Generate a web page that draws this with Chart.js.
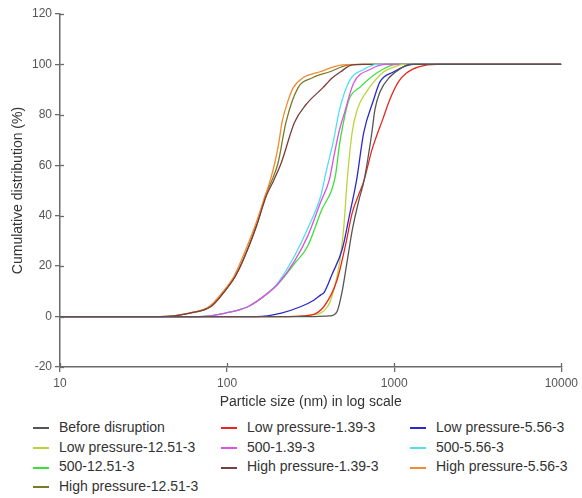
<!DOCTYPE html>
<html lang="en">
<head>
<meta charset="UTF-8">
<title>Cumulative distribution</title>
<script src="https://cdn.jsdelivr.net/npm/chart.js"></script>
<style>
    body { margin: 0; background: #fff; font-family: "Liberation Sans", Arial, sans-serif; }
    #wrap { position: relative; width: 582px; height: 498px; }
    #chart { position: absolute; left: 0; top: 0; }
    #legend {
        position: absolute; left: 33px; top: 418px;
        display: grid; grid-template-columns: 188px 189px 150px;
        font-size: 14px; color: #333;
    }
    .item { height: 19.7px; line-height: 19.7px; white-space: nowrap; }
    .item span { display: inline-block; width: 16px; height: 2px; vertical-align: middle; margin-right: 10px; }
</style>
</head>
<body>
<div id="wrap">
    <canvas id="chart" width="582" height="412"></canvas>
    <div id="legend"></div>
</div>
<script>
// particle size (nm) and cumulative % for each sample
const beforeSize = [10, 300, 415, 455, 490, 523, 560, 614, 660, 735, 766, 820, 940, 1100, 1240, 10000];
const beforePct  = [0, 0, 0.3, 2, 10.6, 22, 34, 46, 54, 73, 82, 89, 95, 98.5, 100, 100];

const low139Size = [10, 200, 316, 380, 455, 510, 560, 610, 660, 735, 862, 940, 1057, 1184, 1400, 1800, 10000];
const low139Pct  = [0, 0, 0.6, 4, 14.5, 28, 41, 48, 54, 66, 79, 86, 93, 96.6, 99, 100, 100];

const low556Size = [10, 150, 211, 277, 330, 364, 380, 400, 420, 490, 543, 595, 657, 753, 820, 988, 1300, 10000];
const low556Pct  = [0, 0, 1.4, 4, 6.5, 8.6, 9.5, 12.5, 16, 27, 41, 54, 73, 86, 93, 97, 100, 100];

const low1251Size = [10, 200, 316, 400, 450, 475, 500, 523, 560, 600, 680, 753, 862, 1000, 1132, 10000];
const low1251Pct  = [0, 0, 0.6, 4, 14.5, 23, 36, 54, 73, 82, 89, 93, 97, 99, 100, 100];

const m139Size = [10, 68, 98, 134, 176, 202, 253, 304, 364, 408, 437, 470, 500, 573, 716, 902, 10000];
const m139Pct  = [0, 0, 1.4, 4, 9.4, 13, 22, 32, 45.6, 54, 64, 74, 80, 92.7, 98, 100, 100];

const m556Size = [10, 68, 98, 134, 176, 202, 253, 304, 364, 390, 437, 470, 545, 657, 787, 10000];
const m556Pct  = [0, 0, 1.4, 4, 9.4, 13.5, 24, 35, 48, 57, 71, 82, 94, 98, 100, 100];

const m1251Size = [10, 68, 98, 134, 176, 202, 253, 304, 364, 445, 470, 490, 536, 625, 787, 1033, 10000];
const m1251Pct  = [0, 0, 1.4, 4, 9.4, 13, 21, 28, 41.6, 56, 68, 75, 86, 91, 96.6, 100, 100];

const high139Size = [10, 40, 60, 80, 95, 112, 125, 150, 172, 190, 211, 253, 296, 372, 427, 476, 560, 650, 10000];
const high139Pct  = [0, 0, 1.4, 4, 9.4, 16, 22.5, 36, 48, 54, 61, 77, 84, 90.6, 94.7, 97, 99.8, 100, 100];

const high556Size = [10, 40, 59, 78, 93, 110, 122, 147, 169, 183, 193, 204, 213, 230, 248, 284, 356, 489, 600, 10000];
const high556Pct  = [0, 0, 1.4, 4, 9.4, 16, 22.5, 36, 48, 55, 61, 69, 77, 85, 90.6, 94.7, 97, 99.8, 100, 100];

const high1251Size = [10, 40, 60, 80, 95, 112, 125, 150, 172, 188, 202, 225, 265, 325, 408, 536, 650, 10000];
const high1251Pct  = [0, 0, 1.4, 4, 9.4, 16, 22.5, 36, 49, 55, 61, 77, 90.6, 94.7, 97, 99.8, 100, 100];

const seriesNames = [
    "Before disruption", "Low pressure-1.39-3", "Low pressure-5.56-3",
    "Low pressure-12.51-3", "500-1.39-3", "500-5.56-3",
    "500-12.51-3", "High pressure-1.39-3", "High pressure-5.56-3",
    "High pressure-12.51-3"
];
const seriesSizes = [beforeSize, low139Size, low556Size, low1251Size, m139Size, m556Size, m1251Size, high139Size, high556Size, high1251Size];
const seriesPcts  = [beforePct, low139Pct, low556Pct, low1251Pct, m139Pct, m556Pct, m1251Pct, high139Pct, high556Pct, high1251Pct];
const seriesColors = ["#555555", "#e8281e", "#2a2ac8", "#bcd43a", "#e050e0", "#50e0f0", "#3ce03c", "#7a3c3c", "#f08c30", "#7a7a28"];

const xTicks = [10, 100, 1000, 10000];

const datasets = seriesNames.map((name, i) => ({
    label: name,
    data: seriesSizes[i].map((s, j) => ({ x: s, y: seriesPcts[i][j] })),
    borderColor: seriesColors[i],
    backgroundColor: seriesColors[i],
    fill: false
}));

// short tick marks on the inner side of the axes
const innerTicks = {
    id: 'innerTicks',
    afterDraw(chart) {
        const c = chart.ctx, area = chart.chartArea;
        c.save();
        c.strokeStyle = '#6b6b6b';
        c.lineWidth = 1.3;
        chart.scales.x.ticks.forEach(t => {
            const px = Math.round(chart.scales.x.getPixelForValue(t.value)) + 0.5;
            c.beginPath(); c.moveTo(px, area.bottom); c.lineTo(px, area.bottom - 4); c.stroke();
        });
        chart.scales.y.ticks.forEach(t => {
            const py = Math.round(chart.scales.y.getPixelForValue(t.value)) + 0.5;
            c.beginPath(); c.moveTo(area.left, py); c.lineTo(area.left + 4, py); c.stroke();
        });
        c.restore();
    }
};

Chart.defaults.font.family = '"Liberation Sans", Arial, sans-serif';

new Chart(document.getElementById('chart'), {
    type: 'line',
    data: { datasets },
    plugins: [innerTicks],
    options: {
        responsive: false,
        animation: false,
        layout: { padding: { top: 14, right: 18, left: 0, bottom: 0 } },
        plugins: { legend: { display: false }, tooltip: { enabled: false } },
        elements: {
            point: { radius: 0 },
            line: { borderWidth: 1.3, tension: 0.4, cubicInterpolationMode: 'monotone' }
        },
        scales: {
            x: {
                type: 'logarithmic',
                min: 10,
                max: 10000,
                afterBuildTicks: s => { s.ticks = xTicks.map(v => ({ value: v })); },
                afterFit: s => { s.height = 45; },
                ticks: { color: '#555', font: { size: 12 }, padding: 4, maxRotation: 0, callback: v => String(v) },
                grid: { drawOnChartArea: false, tickLength: 5, color: '#6b6b6b', lineWidth: 1.3 },
                border: { color: '#6b6b6b', width: 1.5 },
                title: { display: true, text: 'Particle size (nm) in log scale', color: '#333', font: { size: 14 }, padding: { top: 0, bottom: 1 } }
            },
            y: {
                min: -20,
                max: 120,
                afterFit: s => { s.width = 60; },
                ticks: { stepSize: 20, color: '#555', font: { size: 12 }, padding: 3 },
                grid: { drawOnChartArea: false, tickLength: 5, color: '#6b6b6b', lineWidth: 1.3 },
                border: { color: '#6b6b6b', width: 1.5 },
                title: { display: true, text: 'Cumulative distribution (%)', color: '#333', font: { size: 14 }, padding: { top: 10, bottom: 0 } }
            }
        }
    }
});

// legend in three fixed columns
const legend = document.getElementById('legend');
seriesNames.forEach((name, i) => {
    const item = document.createElement('div');
    item.className = 'item';
    item.innerHTML = `<span style="background:${seriesColors[i]}"></span>${name}`;
    legend.appendChild(item);
});
</script>
</body>
</html>
